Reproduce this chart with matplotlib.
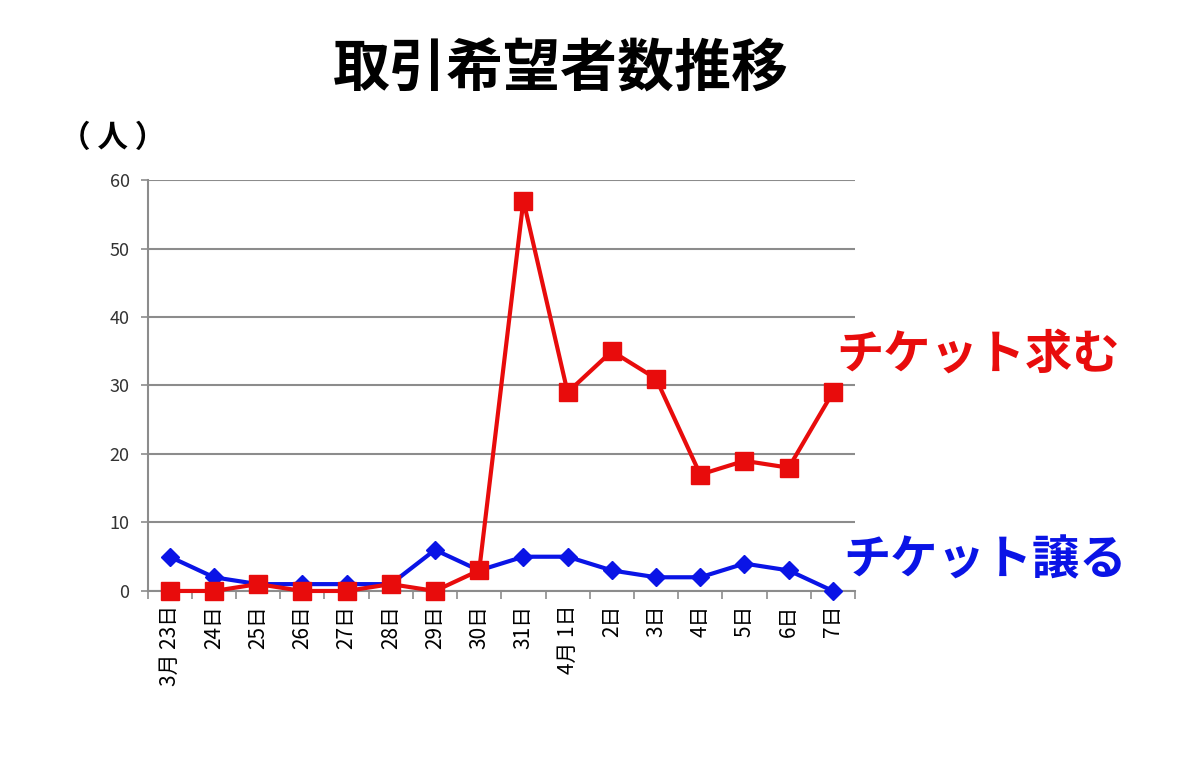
import matplotlib
matplotlib.use('Agg')
from matplotlib import pyplot as plt

plt.rcParams['font.family'] = ['Noto Sans CJK JP', 'DejaVu Sans']

# 日付ラベル
days = ['3月 23日', '24日', '25日', '26日', '27日', '28日', '29日', '30日', '31日',
        '4月 1日', '2日', '3日', '4日', '5日', '6日', '7日']
# チケット求む（人）
want = [0, 0, 1, 0, 0, 1, 0, 3, 57, 29, 35, 31, 17, 19, 18, 29]
# チケット譲る（人）
give = [5, 2, 1, 1, 1, 1, 6, 3, 5, 5, 3, 2, 2, 4, 3, 0]

fig = plt.figure(figsize=(12, 7.71), dpi=100)
ax = fig.add_axes([0.123, 0.2335, 0.5895, 0.533])

x = list(range(len(days)))
ax.plot(x, give, color='#0a14e6', lw=3, marker='D', ms=9, zorder=3, clip_on=False)
ax.plot(x, want, color='#e80c0c', lw=3, marker='s', ms=13, zorder=4, clip_on=False)

ax.set_xlim(-0.5, len(days) - 0.5)
ax.set_ylim(0, 60)
ax.set_yticks(range(0, 61, 10))
ax.yaxis.grid(True, color='#8c8c8c', lw=1.5)
ax.set_axisbelow(True)

ax.set_xticks(x)
ax.set_xticklabels(days, rotation=90, va='top', ha='center', fontsize=15)
ax.set_xticks([i + 0.5 for i in range(-1, len(days))], minor=True)
ax.tick_params(axis='x', which='major', length=0, pad=10)
ax.tick_params(axis='x', which='minor', length=6, color='#8c8c8c', width=1.2)
ax.tick_params(axis='y', length=5, color='#8c8c8c', width=1.2, labelsize=13,
               labelcolor='#333333', pad=8)

for s in ['top', 'right']:
    ax.spines[s].set_visible(False)
for s in ['left', 'bottom']:
    ax.spines[s].set_color('#8c8c8c')
    ax.spines[s].set_linewidth(1.5)

fig.text(0.467, 0.91, '取引希望者数推移', fontsize=41, fontweight='bold',
         ha='center', va='center')
fig.text(0.094, 0.821, '（ 人 ）', fontsize=22, fontweight='bold', ha='center', va='center')
fig.text(0.697, 0.54, 'チケット求む', fontsize=34, fontweight='bold', color='#e80c0c',
         ha='left', va='center')
fig.text(0.703, 0.273, 'チケット譲る', fontsize=34, fontweight='bold', color='#0a14e6',
         ha='left', va='center')

fig.savefig('out.png', dpi=100)
